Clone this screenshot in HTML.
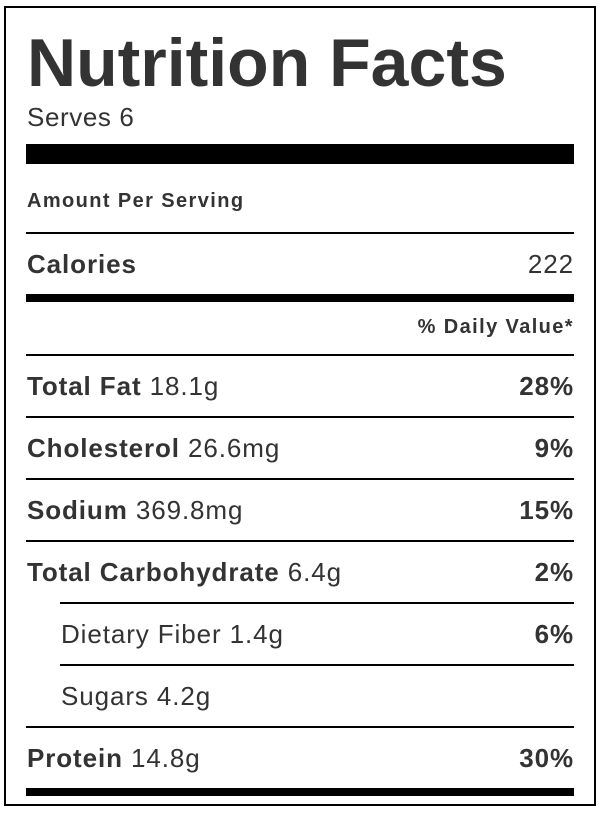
<!DOCTYPE html>
<html><head><meta charset="utf-8"><style>
*{margin:0;padding:0;box-sizing:border-box}
body{width:602px;height:814px;background:#fff;position:relative;font-family:"Liberation Sans",Arial,sans-serif;color:#333;overflow:hidden}
.b{position:absolute;left:4px;top:6px;width:592px;height:800px;border:2px solid #000}
.l{position:absolute;background:#000;right:28px}
.t{position:absolute;white-space:nowrap;line-height:1}
.r{right:29px}
.bo{font-weight:bold}
.m{font-size:26px;letter-spacing:0.9px}
.s{font-size:20px;letter-spacing:1.4px;font-weight:bold}
</style></head><body>
<div class="b"></div>
<div class="t bo" style="left:27px;top:29px;font-size:68px">Nutrition Facts</div>
<div class="t" style="left:27px;top:104px;font-size:26px;letter-spacing:0.6px">Serves 6</div>
<div class="l" style="left:26px;top:144px;height:20px"></div>
<div class="t s" style="left:27px;top:191px">Amount Per Serving</div>
<div class="l" style="left:26px;top:232px;height:2px"></div>
<div class="t bo m" style="left:27px;top:251px">Calories</div>
<div class="t r m" style="top:251px;right:28px">222</div>
<div class="l" style="left:26px;top:294px;height:8px"></div>
<div class="t s r" style="top:317px;right:28px">% Daily Value*</div>
<div class="l" style="left:26px;top:354px;height:2px"></div>
<div class="t m" style="left:27px;top:373px"><b>Total Fat</b> 18.1g</div>
<div class="t bo r m" style="top:373px;right:28px">28%</div>
<div class="l" style="left:26px;top:416px;height:2px"></div>
<div class="t m" style="left:27px;top:435px"><b>Cholesterol</b> 26.6mg</div>
<div class="t bo r m" style="top:435px;right:28px">9%</div>
<div class="l" style="left:26px;top:478px;height:2px"></div>
<div class="t m" style="left:27px;top:497px"><b>Sodium</b> 369.8mg</div>
<div class="t bo r m" style="top:497px;right:28px">15%</div>
<div class="l" style="left:26px;top:540px;height:2px"></div>
<div class="t m" style="left:27px;top:559px"><b>Total Carbohydrate</b> 6.4g</div>
<div class="t bo r m" style="top:559px;right:28px">2%</div>
<div class="l" style="left:60px;top:602px;height:2px"></div>
<div class="t m" style="left:61px;top:621px">Dietary Fiber 1.4g</div>
<div class="t bo r m" style="top:621px;right:28px">6%</div>
<div class="l" style="left:60px;top:664px;height:2px"></div>
<div class="t m" style="left:61px;top:683px">Sugars 4.2g</div>
<div class="l" style="left:26px;top:726px;height:2px"></div>
<div class="t m" style="left:27px;top:745px"><b>Protein</b> 14.8g</div>
<div class="t bo r m" style="top:745px;right:28px">30%</div>
<div class="l" style="left:26px;top:788px;height:8px"></div>
</body></html>
